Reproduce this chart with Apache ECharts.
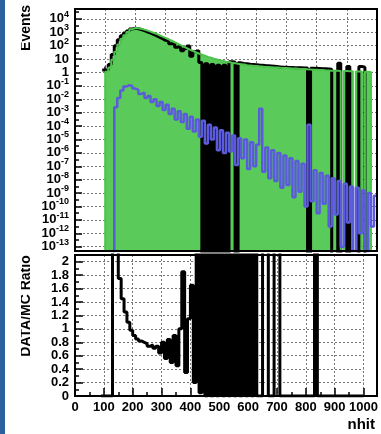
<!DOCTYPE html>
<html>
<head>
<meta charset="utf-8">
<script src="https://cdn.jsdelivr.net/npm/echarts@6/dist/echarts.min.js"></script>
<style>
    html, body { margin: 0; padding: 0; background: #fff; }
    #chart { width: 381px; height: 434px; }
</style>
</head>
<body>
<div id="chart"></div>
<script>
// bin edges (nhit), 10 nhit per bin
const binEdges = [90, 100, 110, 120, 130, 140, 150, 160, 170, 180,
    190, 200, 210, 220, 230, 240, 250, 260, 270, 280,
    290, 300, 310, 320, 330, 340, 350, 360, 370, 380,
    390, 400, 410, 420, 430, 440, 450, 460, 470, 480,
    490, 500, 510, 520, 530, 540, 550, 560, 570, 580,
    590, 600, 610, 620, 630, 640, 650, 660, 670, 680,
    690, 700, 710, 720, 730, 740, 750, 760, 770, 780,
    790, 800, 810, 820, 830, 840, 850, 860, 870, 880,
    890, 900, 910, 920, 930, 940, 950, 960, 970, 980,
    990, 1000]

// log10(Events) per bin, null = empty bin
// MC total (green)
const mcLog = [null, 0.05, 0.35, 0.95, 1.55, 2.1, 2.5, 2.78, 3.02, 3.22,
    3.32, 3.3, 3.26, 3.2, 3.13, 3.05, 2.97, 2.88, 2.78, 2.68,
    2.58, 2.48, 2.37, 2.26, 2.15, 2.04, 1.93, 1.82, 1.71, 1.61,
    1.51, 1.42, 1.34, 1.25, 1.17, 1.1, 1.03, 0.97, 0.91, 0.86,
    0.81, 0.78, 0.73, 0.7, 0.65, 0.62, 0.59, 0.55, 0.53, 0.5,
    0.49, 0.46, 0.45, 0.42, 0.41, 0.4, 0.38, 0.37, 0.35, 0.34,
    0.33, 0.32, 0.3, 0.3, 0.28, 0.27, 0.26, 0.24, 0.23, 0.21,
    0.2, 0.18, 0.18, 0.16, 0.15, 0.14, 0.14, 0.13, 0.12, null,
    0.11, 0.1, 0.1, null, 0.08, 0.07, null, 0.05, 0.04, null,
    null]

// data (black)
const dataLog = [0.19, 0.19, 0.6, 1.35, 2.0, 2.45, 2.75, 2.95, 3.1, 3.25,
    3.3, 3.27, 3.21, 3.13, 3.04, 2.95, 2.85, 2.75, 2.64, 2.53,
    2.4, 2.36, 2.15, 2.16, 1.89, 1.97, 1.63, 1.8, 1.98, 1.21,
    1.55, 1.64, 0.74, null, 0.65, null, 0.6, null, 0.55, null,
    0.55, null, 0.8, 0.78, null, 0.72, 0.68, 0.66, 0.62, 0.6,
    0.58, 0.56, 0.55, 0.52, 0.5, 0.48, 0.46, 0.44, 0.42, 0.4,
    0.4, 0.38, 0.37, 0.36, 0.36, 0.35, 0.34, 0.33, null, 0.32,
    0.3, 0.3, 0.28, 0.28, 0.27, 0.25, null, null, 0.7, null,
    null, 0.45, null, null, null, 0.45, 0.4, null, null, null,
    null]

// MC component (blue)
const blueLog = [null, null, null, null, -2.6, -1.9, -1.35, -1.05, -0.95, -1.0,
    -1.2, -1.3, -1.6, -1.5, -1.9, -1.75, -2.2, -2.0, -2.5, -2.2,
    -2.8, -2.4, -3.1, -2.7, -3.5, -2.9, -3.7, -3.1, -4.2, -3.3,
    -4.4, -3.5, -4.8, -3.6, -5.3, -3.9, -5.0, -4.1, -5.8, -4.3,
    -6.0, -4.5, -5.9, -4.7, -6.9, -4.9, -6.4, -5.0, -7.2, -5.2,
    -7.0, -5.4, -2.7, -7.4, -5.6, -7.9, -5.8, -8.1, -6.0, -8.6,
    -6.2, -8.4, -6.4, -9.3, -6.6, -8.9, -6.8, -10.0, -3.9, -9.6,
    -7.3, -10.5, -7.5, -9.8, -7.7, -11.5, -7.9, -10.6, -8.1, -13.0,
    -8.3, -11.2, -8.5, null, -8.6, -12.0, -8.8, null, -9.0, -11.5,
    -9.2]

// DATA/MC ratio
const ratio = [0, 0, 0, 0, 5, 2.4, 1.75, 1.45, 1.25, 1.1,
    0.98, 0.9, 0.85, 0.82, 0.8, 0.78, 0.74, 0.76, 0.71, 0.74,
    0.64, 0.8, 0.56, 0.84, 0.5, 0.9, 0.45, 1.0, 1.85, 0.35,
    1.15, 1.65, 0.2, 3, 0.05, 4, 0, 4, 0, 4,
    0, 4, 0, 4, 0, 4, 0, 4, 0, 4,
    0, 4, 0, 4, 0, 0, 4, 4, 0, 0,
    4, 4, 0, 0, 0, 0, 0, 0, 0, 0,
    0, 0, 0, 0, 4, 0, 0, 0, 0, 0,
    0, 0, 0, 0, 0, 0, 0, 0, 0, 0,
    0]

// y range of the upper pad, in decades
const topMin = -13.32
const topMax = 4.74
// empty bins are pushed below the pad
const below = -30

const font = 'Liberation Sans'

// histogram as a step polyline
function toSteps(vals, empty) {
    const pts = []
    for (let i = 0; i < vals.length; i++) {
        const v = vals[i] == null ? empty : vals[i]
        pts.push([binEdges[i], v], [binEdges[i + 1], v])
    }
    return pts
}

function decadeLabel(v) {
    if (Math.abs(v - Math.round(v)) > 1e-6) return ''
    const n = Math.round(v)
    if (n === 0) return '{b|1}'
    if (n === 1) return '{b|10}'
    return '{b|10}{s|' + n + '}'
}

function ratioLabel(v) {
    if (Math.abs(v / 0.2 - Math.round(v / 0.2)) > 1e-6) return ''
    return String(+v.toFixed(1))
}

const dotted = { show: true, lineStyle: { color: '#777', type: [2, 2], width: 1 } }
const tickStyle = { color: '#000', width: 1.5 }

const chart = echarts.init(document.getElementById('chart'))
chart.setOption({
    animation: false,
    backgroundColor: '#fff',
    grid: [
        { left: 75, top: 9, width: 302, height: 242 },
        { left: 75, top: 255, width: 302, height: 141 }
    ],
    xAxis: [
        {
            gridIndex: 0, type: 'value', min: 0, max: 1000, interval: 100,
            axisLine: { show: false },
            axisTick: { inside: true, length: 6, lineStyle: tickStyle },
            axisLabel: { show: false },
            splitLine: dotted
        },
        {
            gridIndex: 1, type: 'value', min: 0, max: 1000, interval: 100,
            axisLine: { show: false },
            axisTick: { inside: true, length: 8, lineStyle: tickStyle },
            minorTick: { show: true, splitNumber: 2, length: 4, lineStyle: tickStyle },
            axisLabel: {
                margin: 5, color: '#000', fontFamily: font, fontWeight: 'bold', fontSize: 13,
                formatter: v => String(v)
            },
            splitLine: dotted
        }
    ],
    yAxis: [
        {
            gridIndex: 0, type: 'value', min: topMin, max: topMax, splitNumber: 18,
            axisLine: { show: false },
            axisTick: { inside: true, length: 7, lineStyle: tickStyle },
            minorTick: { show: true, splitNumber: 2, length: 4, lineStyle: tickStyle },
            splitLine: dotted,
            axisLabel: {
                margin: 6,
                formatter: decadeLabel,
                rich: {
                    b: { fontFamily: font, fontWeight: 'bold', fontSize: 13, lineHeight: 18, color: '#000' },
                    s: { fontFamily: font, fontWeight: 'bold', fontSize: 9, lineHeight: 8, verticalAlign: 'top', color: '#000' }
                }
            }
        },
        {
            gridIndex: 1, type: 'value', min: 0, max: 2.1, interval: 0.2,
            axisLine: { show: false },
            axisTick: { inside: true, length: 8, lineStyle: tickStyle },
            minorTick: { show: true, splitNumber: 2, length: 4, lineStyle: tickStyle },
            splitLine: dotted,
            axisLabel: { margin: 6, formatter: ratioLabel, color: '#000', fontFamily: font, fontWeight: 'bold', fontSize: 13 }
        }
    ],
    series: [
        {
            name: 'MC', type: 'line', xAxisIndex: 0, yAxisIndex: 0, z: 2,
            data: toSteps(mcLog, below), showSymbol: false,
            lineStyle: { width: 0 },
            areaStyle: { color: '#5acb5a', opacity: 1, origin: 'start' }
        },
        {
            name: 'Data', type: 'line', xAxisIndex: 0, yAxisIndex: 0, z: 3,
            data: toSteps(dataLog, below), showSymbol: false,
            lineStyle: { color: '#000', width: 3 }
        },
        {
            // MC outline drawn over the data
            name: 'MC outline', type: 'line', xAxisIndex: 0, yAxisIndex: 0, z: 4,
            data: toSteps(mcLog, below), showSymbol: false,
            lineStyle: { color: '#4cc44c', width: 2 }
        },
        {
            name: 'MC component', type: 'line', xAxisIndex: 0, yAxisIndex: 0, z: 5,
            data: toSteps(blueLog, below), showSymbol: false,
            lineStyle: { color: '#5b5bdc', width: 2.5 }
        },
        {
            name: 'DATA/MC', type: 'line', xAxisIndex: 1, yAxisIndex: 1, z: 3,
            data: toSteps(ratio, 0), showSymbol: false,
            lineStyle: { color: '#000', width: 3 }
        }
    ],
    graphic: [
        // slide edge
        { type: 'rect', left: 0, top: 0, z: 50, shape: { width: 5, height: 434 }, style: { fill: '#2d5f9f' } },
        // pad frames
        { type: 'rect', x: 75, y: 9, z: 100, shape: { width: 302, height: 242 }, style: { fill: 'none', stroke: '#000', lineWidth: 2 } },
        { type: 'rect', x: 75, y: 255, z: 100, shape: { width: 302, height: 141 }, style: { fill: 'none', stroke: '#000', lineWidth: 2 } },
        // axis titles
        {
            type: 'text', x: 26, y: 28, rotation: Math.PI / 2, z: 60,
            style: { text: 'Events', font: 'bold 14px "Liberation Sans"', textAlign: 'center', textVerticalAlign: 'middle', fill: '#000' }
        },
        {
            type: 'text', x: 26, y: 306, rotation: Math.PI / 2, z: 60,
            style: { text: 'DATA/MC Ratio', font: 'bold 14px "Liberation Sans"', textAlign: 'center', textVerticalAlign: 'middle', fill: '#000' }
        },
        // the titles are cut by the slide crop
        { type: 'rect', x: 5, y: 0, z: 70, shape: { width: 16, height: 434 }, style: { fill: '#fff' } },
        {
            type: 'text', x: 375, y: 425, z: 60,
            style: { text: 'nhit', font: 'bold 15px "Liberation Sans"', textAlign: 'right', textVerticalAlign: 'middle', fill: '#000' }
        }
    ]
})
</script>
</body>
</html>
